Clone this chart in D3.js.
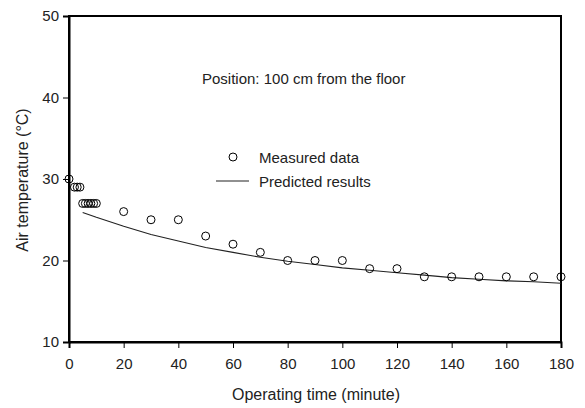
<!DOCTYPE html>
<html><head><meta charset="utf-8">
<script src="https://cdn.jsdelivr.net/npm/d3@7"></script>
<style>body{margin:0;background:#fff}text{font-family:"Liberation Sans",Arial,sans-serif}</style>
</head><body><svg id="c" width="585" height="408"></svg>
<script>
const measuredTime = [0,2,3,4,5,6,7,8,9,10,20,30,40,50,60,70,80,90,100,110,120,130,140,150,160,170,180];
const measuredTemp = [30,29,29,29,27,27,27,27,27,27,26,25,25,23,22,21,20,20,20,19,19,18,18,18,18,18,18];
const predTime = [5,10,20,30,40,50,60,70,80,90,100,110,120,130,140,150,160,170,180];
const predTemp = [25.9,25.3,24.2,23.2,22.4,21.6,21.0,20.4,19.9,19.5,19.1,18.8,18.5,18.2,17.9,17.7,17.5,17.4,17.2];
const xTicks = [0,20,40,60,80,100,120,140,160,180];
const yTicks = [10,20,30,40,50];

const svg = d3.select("#c");
const L=69,R=561,T=16,B=342;
const x = d3.scaleLinear().domain([0,180]).range([L,R]);
const y = d3.scaleLinear().domain([10,50]).range([B,T]);

svg.append("rect").attr("x",L).attr("y",T).attr("width",R-L).attr("height",B-T)
  .attr("fill","none").attr("stroke","#000").attr("stroke-width",2);

const xa = svg.append("g").attr("transform",`translate(0,${B})`)
  .call(d3.axisBottom(x).tickValues(xTicks).tickSize(6).tickPadding(10));
const ya = svg.append("g").attr("transform",`translate(${L},0)`)
  .call(d3.axisLeft(y).tickValues(yTicks).tickSize(6).tickPadding(4));
[xa,ya].forEach(a=>{
  a.select(".domain").attr("stroke","#000").attr("stroke-width",2);
  a.selectAll(".tick line").attr("stroke","#000").attr("stroke-width",1);
  a.selectAll(".tick text").attr("fill","#222").style("font-size","15px").style("font-family","'Liberation Sans',Arial,sans-serif");
});

const line = d3.line().x((d,i)=>x(predTime[i])).y((d,i)=>y(predTemp[i]));
svg.append("path").datum(predTemp).attr("d",line).attr("fill","none")
  .attr("stroke","#222").attr("stroke-width",1.1);

svg.append("g").selectAll("circle").data(measuredTemp).join("circle")
  .attr("cx",(d,i)=>x(measuredTime[i])).attr("cy",d=>y(d)).attr("r",4)
  .attr("fill","none").attr("stroke","#000").attr("stroke-width",1);

svg.append("text").attr("x",202).attr("y",84)
  .style("font-size","15px").attr("fill","#222").text("Position: 100 cm from the floor");

svg.append("circle").attr("cx",233).attr("cy",157).attr("r",4).attr("fill","none").attr("stroke","#000");
svg.append("text").attr("x",259).attr("y",163).style("font-size","15px").attr("fill","#222").text("Measured data");
svg.append("line").attr("x1",216).attr("x2",249).attr("y1",181).attr("y2",181).attr("stroke","#222").attr("stroke-width",1.1);
svg.append("text").attr("x",259).attr("y",187).style("font-size","15px").attr("fill","#222").text("Predicted results");

svg.append("text").attr("x",316).attr("y",400).attr("text-anchor","middle")
  .style("font-size","16px").attr("fill","#222").text("Operating time (minute)");
svg.append("text").attr("transform","translate(28,180) rotate(-90)").attr("text-anchor","middle")
  .style("font-size","16px").attr("fill","#222").text("Air temperature (°C)");
</script></body></html>
